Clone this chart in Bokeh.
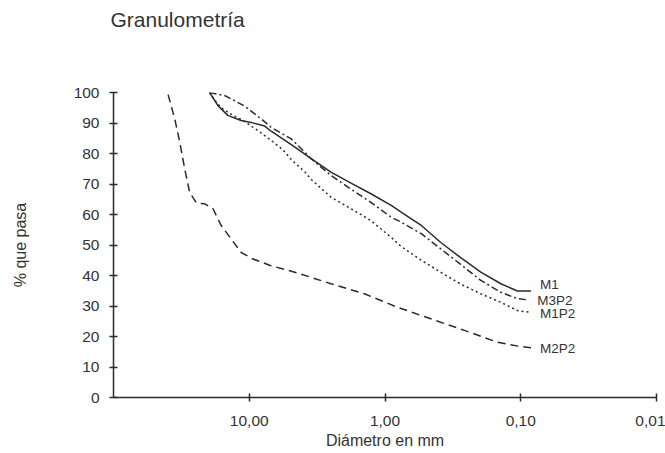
from bokeh.plotting import figure
from bokeh.models import Range1d, FixedTicker, CustomJSTickFormatter, ColumnDataSource, Title
from bokeh.core.properties import value
from bokeh.embed import file_html
from bokeh.resources import INLINE

# ---- data ----
title_text = "Granulometría"
series_names = ["M1", "M3P2", "M1P2", "M2P2"]

m1_d = [19.6, 17.0, 14.4, 11.5, 9.7, 7.7, 6.9, 4.9, 3.5, 2.5, 1.78, 1.27, 0.90, 0.76,
        0.64, 0.54, 0.39, 0.28, 0.197, 0.140, 0.106, 0.084]
m1_p = [100, 95.7, 92.5, 90.8, 90.2, 89.0, 87.3, 82.9, 78.3, 73.9, 70.3, 66.8, 63.0, 60.8,
        58.6, 56.4, 50.9, 46.0, 41.1, 37.3, 34.9, 34.9]

m3p2_d = [19.6, 15.2, 14.4, 10.8, 8.2, 6.9, 4.9, 3.5, 2.5, 1.78, 1.27, 0.90, 0.76, 0.54,
          0.39, 0.28, 0.197, 0.140, 0.106, 0.088]
m3p2_p = [100, 99.0, 98.5, 95.5, 91.4, 88.6, 84.8, 78.3, 72.8, 68.3, 64.0, 59.1, 57.5, 53.7,
          48.8, 43.8, 38.4, 34.5, 32.4, 32.0]

m1p2_d = [19.6, 17.5, 16.1, 13.2, 11.5, 10.2, 8.5, 6.9, 5.65, 4.9, 3.9, 3.5, 2.5, 1.78,
          1.27, 0.90, 0.76, 0.54, 0.39, 0.28, 0.197, 0.140, 0.106, 0.084]
m1p2_p = [100, 96.8, 95.0, 92.5, 91.2, 89.7, 87.3, 84.3, 81.2, 78.0, 74.0, 71.5, 65.7, 61.9,
          58.0, 52.5, 49.5, 45.0, 41.1, 37.3, 34.0, 31.2, 28.5, 27.9]

m2p2_d = [39.6, 35.4, 32.5, 29.9, 27.5, 24.5, 21.3, 18.5, 16.1, 13.6, 11.5, 9.5, 7.0, 4.4,
          2.5, 1.42, 0.81, 0.46, 0.26, 0.148, 0.10, 0.084]
m2p2_p = [99.3, 91.4, 83.7, 75.0, 67.3, 63.8, 63.5, 61.9, 56.4, 52.0, 47.6, 45.5, 43.3, 40.8,
          37.3, 34.0, 29.6, 25.8, 22.0, 18.1, 16.7, 16.3]

x_ticks = [10, 1, 0.1, 0.01]
y_ticks = [0, 10, 20, 30, 40, 50, 60, 70, 80, 90, 100]

# ---- styles ----
FONT = "Liberation Sans"
INK = "#2a2a2a"
TXT = "#333333"
dashes = ["solid", "7 3 2 3", "2 3", "8 5"]
label_dy = [-7, 1, 1, 1]

p = figure(width=665, height=453, x_axis_type="log",
           x_range=Range1d(100, 0.01), y_range=Range1d(0, 100),
           output_backend="svg", toolbar_location=None,
           min_border_left=113, min_border_right=9,
           min_border_top=92, min_border_bottom=56)

p.title.text = title_text
p.title.text_font = FONT
p.title.text_font_size = "21px"
p.title.text_font_style = "normal"
p.title.text_color = TXT
p.title.align = "left"
p.title.offset = -3
p.title.standoff = 10

# invisible spacer between the title and the frame, pushes the title up
spacer = Title(text=" ", text_font_size="10px", text_color="white", standoff=44)
p.above = [spacer] + list(p.above)

p.xgrid.visible = False
p.ygrid.visible = False
p.outline_line_color = None
p.background_fill_color = "white"
p.border_fill_color = "white"

for ax in (p.xaxis[0], p.yaxis[0]):
    ax.axis_line_color = INK
    ax.axis_line_width = 1.5
    ax.major_tick_line_color = INK
    ax.major_tick_line_width = 1.5
    ax.major_tick_in = 4
    ax.major_tick_out = 4
    ax.minor_tick_in = 0
    ax.minor_tick_out = 0
    ax.major_label_text_font = FONT
    ax.major_label_text_font_size = "15.5px"
    ax.major_label_text_color = TXT
    ax.axis_label_text_font = FONT
    ax.axis_label_text_font_size = "16px"
    ax.axis_label_text_font_style = "normal"
    ax.axis_label_text_color = TXT

p.xaxis.ticker = FixedTicker(ticks=x_ticks, minor_ticks=[])
p.xaxis.formatter = CustomJSTickFormatter(code="return tick.toFixed(2).replace('.', ',');")
p.xaxis.axis_label = "Diámetro en mm"
p.xaxis.major_label_standoff = 14
p.xaxis.axis_label_standoff = 3

p.yaxis.ticker = FixedTicker(ticks=y_ticks, minor_ticks=[])
p.yaxis.axis_label = "% que pasa"
p.yaxis.major_label_standoff = 10
p.yaxis.axis_label_standoff = 42

all_d = [m1_d, m3p2_d, m1p2_d, m2p2_d]
all_p = [m1_p, m3p2_p, m1p2_p, m2p2_p]

for name, d, v, dash, dy in zip(series_names, all_d, all_p, dashes, label_dy):
    src = ColumnDataSource(dict(x=d, y=v))
    p.line("x", "y", source=src, line_color=INK, line_width=1.5, line_dash=dash)
    p.text(x=[d[-1]], y=[v[-1]], text=[name], x_offset=9, y_offset=dy,
           text_font=value(FONT), text_font_size="13.5px", text_color=TXT,
           text_baseline="middle", text_align="left")

open("out.html", "w").write(file_html(p, INLINE))
